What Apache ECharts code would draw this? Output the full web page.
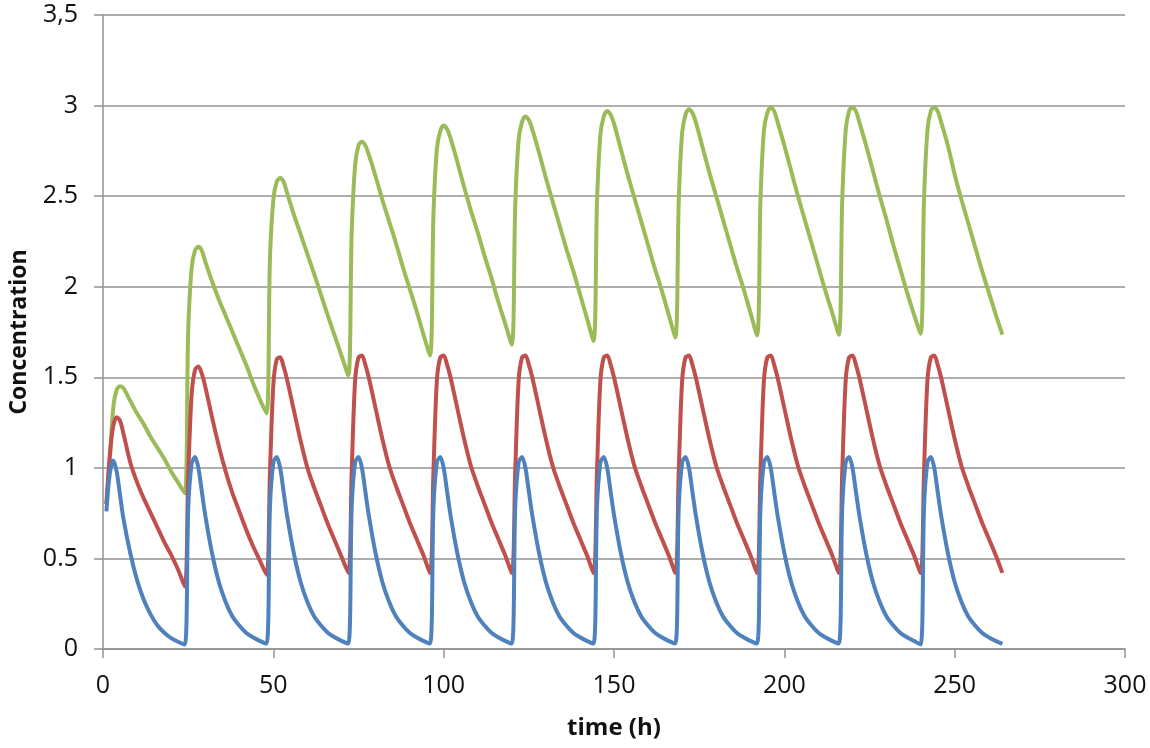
<!DOCTYPE html>
<html>
<head>
<meta charset="utf-8">
<script src="https://cdn.jsdelivr.net/npm/echarts@6/dist/echarts.min.js"></script>
<style>
html,body{margin:0;padding:0;background:#fff;}
#chart{width:1150px;height:748px;}
</style>
</head>
<body>
<div id="chart"></div>
<script>
// time points (h)
const times = [
  1,2,3,4,5,6,8,10,12,14,16,18,20,22,
  24,25,26,27,28,29,30,32,34,36,38,40,42,44,46,
  48,49,50,51,52,53,54,56,58,60,62,64,66,68,70,
  72,73,74,75,76,77,78,80,82,84,86,88,90,92,94,
  96,97,98,99,100,101,102,104,106,108,110,112,114,116,118,
  120,121,122,123,124,125,126,128,130,132,134,136,138,140,142,
  144,145,146,147,148,149,150,152,154,156,158,160,162,164,166,
  168,169,170,171,172,173,174,176,178,180,182,184,186,188,190,
  192,193,194,195,196,197,198,200,202,204,206,208,210,212,214,
  216,217,218,219,220,221,222,224,226,228,230,232,234,236,238,
  240,241,242,243,244,245,246,248,250,252,254,256,258,260,262,
  264
];

const blueValues = [
  0.76,0.97,1.04,0.98,0.85,0.72,0.53,0.38,0.27,0.19,0.13,0.09,0.06,0.04,
  0.025,0.77,1.02,1.06,1.00,0.87,0.74,0.53,0.37,0.26,0.18,0.13,0.09,0.065,0.045,
  0.03,0.78,1.03,1.06,1.00,0.87,0.74,0.53,0.37,0.26,0.18,0.13,0.09,0.065,0.045,
  0.03,0.78,1.03,1.06,1.00,0.87,0.74,0.53,0.37,0.26,0.18,0.13,0.09,0.065,0.045,
  0.03,0.78,1.03,1.06,1.00,0.87,0.74,0.53,0.37,0.26,0.18,0.13,0.09,0.065,0.045,
  0.03,0.78,1.03,1.06,1.00,0.87,0.74,0.53,0.37,0.26,0.18,0.13,0.09,0.065,0.045,
  0.03,0.78,1.03,1.06,1.00,0.87,0.74,0.53,0.37,0.26,0.18,0.13,0.09,0.065,0.045,
  0.03,0.78,1.03,1.06,1.00,0.87,0.74,0.53,0.37,0.26,0.18,0.13,0.09,0.065,0.045,
  0.03,0.78,1.03,1.06,1.00,0.87,0.74,0.53,0.37,0.26,0.18,0.13,0.09,0.065,0.045,
  0.03,0.78,1.03,1.06,1.00,0.87,0.74,0.53,0.37,0.26,0.18,0.13,0.09,0.065,0.045,
  0.025,0.78,1.03,1.06,1.00,0.87,0.74,0.53,0.37,0.26,0.18,0.13,0.09,0.065,0.045,
  0.028
];

const redValues = [
  0.80,1.07,1.23,1.28,1.26,1.19,1.03,0.92,0.83,0.75,0.67,0.59,0.52,0.44,
  0.345,0.95,1.40,1.54,1.56,1.52,1.45,1.28,1.12,0.98,0.86,0.76,0.66,0.57,0.49,
  0.41,0.97,1.46,1.60,1.61,1.56,1.49,1.32,1.15,1.00,0.89,0.79,0.69,0.60,0.51,
  0.42,0.98,1.48,1.61,1.62,1.57,1.50,1.33,1.16,1.01,0.90,0.80,0.70,0.61,0.52,
  0.42,0.98,1.48,1.61,1.62,1.57,1.50,1.33,1.16,1.01,0.90,0.80,0.70,0.61,0.52,
  0.42,0.98,1.48,1.61,1.62,1.57,1.50,1.33,1.16,1.01,0.90,0.80,0.70,0.61,0.52,
  0.42,0.98,1.48,1.61,1.62,1.57,1.50,1.33,1.16,1.01,0.90,0.80,0.70,0.61,0.52,
  0.42,0.98,1.48,1.61,1.62,1.57,1.50,1.33,1.16,1.01,0.90,0.80,0.70,0.61,0.52,
  0.42,0.98,1.48,1.61,1.62,1.57,1.50,1.33,1.16,1.01,0.90,0.80,0.70,0.61,0.52,
  0.42,0.98,1.48,1.61,1.62,1.57,1.50,1.33,1.16,1.01,0.90,0.80,0.70,0.61,0.52,
  0.42,0.98,1.48,1.61,1.62,1.57,1.50,1.33,1.16,1.01,0.90,0.80,0.70,0.61,0.52,
  0.42
];

const greenValues = [
  0.80,1.05,1.33,1.43,1.45,1.44,1.37,1.30,1.24,1.17,1.11,1.05,0.98,0.92,
  0.86,1.75,2.10,2.20,2.22,2.20,2.14,2.03,1.93,1.84,1.75,1.66,1.57,1.47,1.38,
  1.30,2.15,2.48,2.58,2.60,2.58,2.52,2.40,2.29,2.18,2.07,1.955,1.84,1.73,1.62,
  1.51,2.30,2.67,2.78,2.80,2.78,2.73,2.61,2.48,2.36,2.24,2.11,1.99,1.87,1.74,
  1.62,2.40,2.76,2.86,2.89,2.87,2.82,2.69,2.55,2.42,2.30,2.17,2.05,1.92,1.80,
  1.68,2.44,2.81,2.91,2.94,2.92,2.87,2.74,2.60,2.47,2.34,2.21,2.09,1.96,1.83,
  1.70,2.46,2.84,2.94,2.97,2.95,2.90,2.76,2.62,2.49,2.36,2.23,2.10,1.98,1.85,
  1.72,2.47,2.85,2.95,2.98,2.96,2.91,2.77,2.63,2.50,2.37,2.24,2.11,1.99,1.86,
  1.73,2.48,2.86,2.96,2.99,2.97,2.91,2.78,2.64,2.50,2.37,2.24,2.11,1.98,1.86,
  1.735,2.48,2.86,2.97,2.99,2.97,2.91,2.78,2.64,2.50,2.37,2.23,2.10,1.97,1.85,
  1.74,2.48,2.86,2.97,2.99,2.97,2.91,2.78,2.62,2.48,2.35,2.22,2.09,1.97,1.85,
  1.735
];

const yTickLabels = ['0','0.5','1','1.5','2','2.5','3','3,5'];
const xTickLabels = ['0','50','100','150','200','250','300'];

function pairs(vals){ return times.map((t,i)=>[t, vals[i]]); }

const chart = echarts.init(document.getElementById('chart'), null, {renderer:'canvas'});
const FONT = "'Open Sans', 'Liberation Sans', sans-serif";
const gridColor = '#939393';
const textColor = '#111111';

chart.setOption({
  animation:false,
  backgroundColor:'#ffffff',
  grid:{left:101, right:25, top:15, bottom:99, containLabel:false},
  xAxis:{
    type:'value', min:0, max:300, interval:50,
    name:'time (h)', nameLocation:'middle', nameGap:67,
    nameTextStyle:{fontFamily:FONT, fontSize:24, fontWeight:'bold', color:textColor},
    axisLine:{show:true, lineStyle:{color:gridColor, width:1.5}},
    axisTick:{show:true, length:9, lineStyle:{color:gridColor, width:1.5}},
    splitLine:{show:false},
    axisLabel:{fontFamily:FONT, fontSize:25, color:textColor, margin:24,
      formatter:(v)=>xTickLabels[Math.round(v/50)]}
  },
  yAxis:{
    type:'value', min:0, max:3.5, interval:0.5,
    name:'Concentration', nameLocation:'middle', nameGap:72, nameRotate:90,
    nameTextStyle:{fontFamily:FONT, fontSize:23, fontWeight:'bold', color:textColor},
    axisLine:{show:true, lineStyle:{color:gridColor, width:1.5}},
    axisTick:{show:true, length:9, lineStyle:{color:gridColor, width:1.5}},
    splitLine:{show:true, lineStyle:{color:gridColor, width:1.5}},
    axisLabel:{fontFamily:FONT, fontSize:25, color:textColor, margin:25,
      formatter:(v)=>yTickLabels[Math.round(v/0.5)]}
  },
  series:[
    {type:'line', name:'blue', data:pairs(blueValues), showSymbol:false, smooth:0.3,
     lineStyle:{color:'#4f81bd', width:4}, z:3},
    {type:'line', name:'red', data:pairs(redValues), showSymbol:false, smooth:0.3,
     lineStyle:{color:'#c0504d', width:4}, z:2},
    {type:'line', name:'green', data:pairs(greenValues), showSymbol:false, smooth:0.3,
     lineStyle:{color:'#9bbb59', width:4}, z:1}
  ]
});
</script>
</body>
</html>
